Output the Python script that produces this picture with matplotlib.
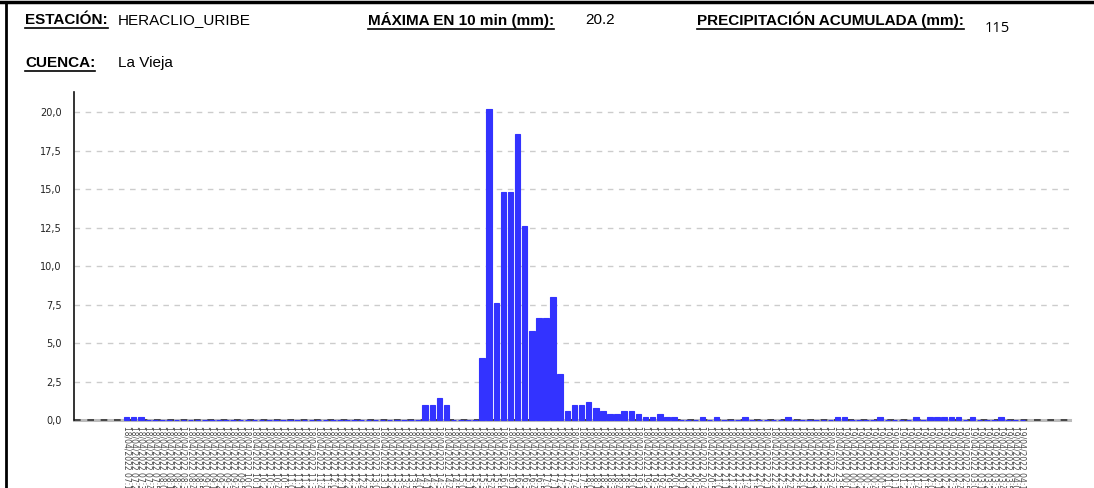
import matplotlib
matplotlib.use("Agg")
import matplotlib.pyplot as plt
import matplotlib.ticker as ticker
from matplotlib.lines import Line2D
import pandas as pd

# precipitation every 10 min (mm)
rain = [0.2, 0.2, 0.2] + [0.0] * 39 + \
       [1.0, 1.0, 1.4, 1.0, 0.0, 0.0, 0.0, 0.0,
        4.0, 20.2, 7.6, 14.8, 14.8, 18.6, 12.6, 5.8, 6.6, 6.6, 8.0, 3.0,
        0.6, 1.0, 1.0, 1.2, 0.8, 0.6, 0.4, 0.4, 0.6, 0.6, 0.4, 0.2, 0.2,
        0.4, 0.2, 0.2, 0.0, 0.0, 0.0, 0.2, 0.0, 0.2, 0.0, 0.0, 0.0,
        0.2, 0.0, 0.0, 0.0, 0.0, 0.0, 0.2, 0.0, 0.0, 0.0, 0.0, 0.0, 0.0,
        0.2, 0.2, 0.0, 0.0, 0.0, 0.0, 0.2, 0.0, 0.0, 0.0, 0.0, 0.2, 0.0,
        0.2, 0.2, 0.2, 0.2, 0.2, 0.0, 0.2, 0.0, 0.0, 0.0, 0.2, 0.0, 0.0,
        0.0]
times = pd.date_range("2022-04-18 07:10", periods=len(rain), freq="10min")
tick_labels = [t.strftime("%d/%m/%Y %H:%M") for t in times]
y_ticks = [0, 2.5, 5, 7.5, 10, 12.5, 15, 17.5, 20]

station = "HERACLIO_URIBE"
basin = "La Vieja"
max_10min = "20.2"
accum = "115"

hfont = ["Liberation Sans Narrow", "Liberation Sans", "DejaVu Sans"]

fig = plt.figure(figsize=(10.94, 4.88), dpi=100)
ax = fig.add_axes([74 / 1094, (488 - 420) / 488, (1070 - 74) / 1094, (420 - 92) / 488])

xs = list(range(len(rain)))
ax.bar(xs, rain, width=0.78, color="#3333ff", edgecolor="#3333ff",
       linewidth=0.8, zorder=3, clip_on=False)

ax.set_xlim(-7.4, 132.7)
ax.set_ylim(0, 21.3)
ax.set_yticks(y_ticks)
ax.yaxis.set_major_formatter(ticker.FuncFormatter(lambda v, _: f"{v:.1f}".replace(".", ",")))
ax.tick_params(axis="y", length=0, pad=9, labelsize=7, labelcolor="#222222")
ax.set_xticks(xs)
ax.set_xticklabels(tick_labels, rotation=-90, fontsize=5.5, color="#444444")
ax.tick_params(axis="x", length=0, pad=4)

ax.grid(axis="y", color="#cccccc", linestyle=(0, (4, 4)), linewidth=1, zorder=0)
for s in ["top", "right", "bottom"]:
    ax.spines[s].set_visible(False)
ax.spines["left"].set_color("#111111")
ax.spines["left"].set_linewidth(1.2)
ax.axhline(0, color="#bbbbbb", linewidth=2.2, zorder=1, clip_on=False)
ax.axhline(0, color="#333333", linewidth=1.2, linestyle=(0, (4, 4)), zorder=2, clip_on=False)

# header
def header(x, y, s, bold=False, **kw):
    t = fig.text(x / 1094, 1 - y / 488, s, fontsize=11, family=hfont,
                 fontweight="bold" if bold else "normal", va="center", ha="left", **kw)
    return t

hdr = [(25, 20, "ESTACIÓN:"), (368, 20, "MÁXIMA EN 10 min (mm):"),
       (697, 20, "PRECIPITACIÓN ACUMULADA (mm):"), (25, 63, "CUENCA:")]
fig.canvas.draw()
r = fig.canvas.get_renderer()
for x, y, s in hdr:
    t = header(x, y, s, bold=True)
    bb = t.get_window_extent(renderer=r)
    fig.add_artist(Line2D([bb.x0 / 1094, bb.x1 / 1094],
                          [(bb.y0 - 1) / 488, (bb.y0 - 1) / 488],
                          color="black", linewidth=1.2))
header(118, 20, station)
header(585, 20, max_10min)
header(118, 63, basin)
fig.text(985 / 1094, 1 - 29 / 488, accum, fontsize=10.5, family=["Open Sans", "DejaVu Sans"],
         va="center", ha="left")

# outer frame
fig.add_artist(Line2D([0, 1], [1 - 2 / 488, 1 - 2 / 488], color="black", linewidth=2.5))
fig.add_artist(Line2D([6 / 1094, 6 / 1094], [0, 1 - 2 / 488], color="black", linewidth=2))

fig.savefig("out.png", dpi=100)
